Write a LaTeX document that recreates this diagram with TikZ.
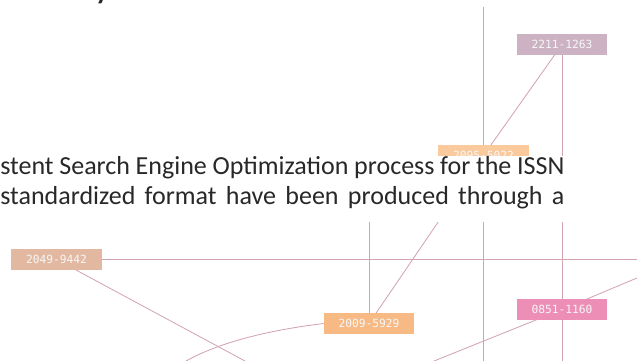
\documentclass[tikz,border=0pt]{standalone}
\usepackage{fontspec}
\setmainfont{Carlito}
\newfontfamily\issnfont{DejaVu Sans Mono}
\usepackage{tikz}
\usetikzlibrary{positioning, backgrounds}

\definecolor{linkPink}{RGB}{210,164,176}
\definecolor{boxMauve}{RGB}{204,178,194}
\definecolor{boxPeach}{RGB}{250,202,156}
\definecolor{boxTan}{RGB}{226,184,160}
\definecolor{boxOrange}{RGB}{248,186,132}
\definecolor{boxPink}{RGB}{236,142,182}
\definecolor{textDark}{RGB}{40,40,40}

\begin{document}
\begin{tikzpicture}[
    x=0.025cm, y=-0.025cm,
    link/.style={draw=linkPink, line width=0.6pt},
    issn/.style={fill=#1, text=white!94!gray, font=\issnfont\fontsize{8}{9}\selectfont,
        minimum width=2.25cm, minimum height=0.525cm, inner sep=0pt},
    para/.style={anchor=base west, inner sep=0pt, text=textDark,
        font=\fontsize{18.5}{22}\selectfont}
]
    \useasboundingbox (0,0) rectangle (640,361);
    \clip (0,0) rectangle (640,361);

    % ISSN boxes
    \node[issn=boxMauve] (b2211) at (562,44.5) {2211-1263};
    \node[issn=boxPeach] (b2095) at (483.5,155.5) {2095-5022};
    \node[issn=boxTan] (b2049) at (56.5,259.5) {2049-9442};
    \node[issn=boxOrange] (b2009) at (369,323.5) {2009-5929};
    \node[issn=boxPink] (b0851) at (562,309.5) {0851-1160};

    % free ends
    \coordinate (topA) at (483,7);
    \coordinate (botA) at (483,361);
    \coordinate (botB) at (562,361);
    \coordinate (rightH) at (637,259.5);
    \coordinate (botD) at (245,361);
    \coordinate (upV) at (369,200);
    \coordinate (botC) at (186,361);
    \coordinate (rightP) at (637,278);
    \coordinate (botP) at (434,361);

    % links (behind the boxes)
    \begin{scope}[on background layer]
    \draw[link] (topA) -- (botA);
    \draw[link] (b2211.center) -- (b2095.center);
    \draw[link] (b2211.center) -- (botB);
    \draw[link] (b2009.center) -- (b2095.center);
    \draw[link] (b2009.center) -- (upV);
    \draw[link] (b2049.center) -- (rightH);
    \draw[link] (b2049.center) -- (botD);
    \draw[link] (b2009.west) .. controls (270,330) and (220,342) .. (botC);
    \draw[link] (rightP) -- (b0851.center) -- (botP);
    \end{scope}

    % text block over the drawing
    \fill[white] (0,156) rectangle (568,222);
    \node[para] (line1) at (0,175) {\makebox[14.1cm][s]{stent Search Engine Optimization process for the ISSN}};
    \node[para] (line2) at (0,205) {\makebox[14.1cm][s]{standardized format have been produced through a}};
    \node[para, font=\fontsize{28}{30}\selectfont] (frag) at (94,-2) {y};

\end{tikzpicture}
\end{document}
